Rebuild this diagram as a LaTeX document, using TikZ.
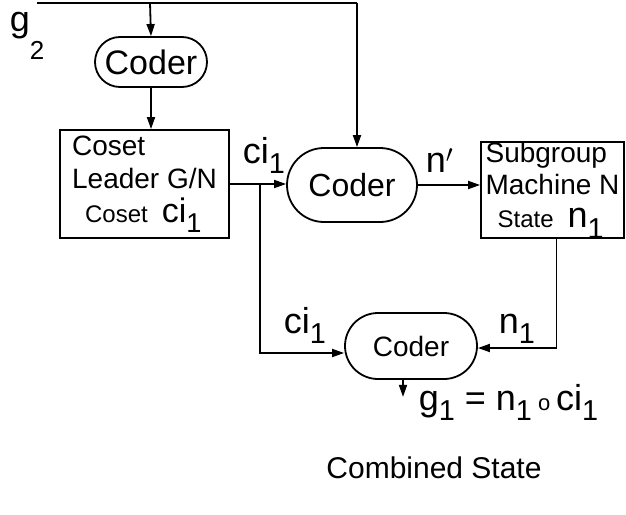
\documentclass[tikz,border=0pt]{standalone}
\usepackage{fontspec}
\setsansfont{Liberation Sans}
\usepackage{graphicx}
\usetikzlibrary{shapes.misc, arrows.meta, positioning}
\newcommand{\sz}[2]{\fontsize{#1}{#2}\selectfont}
\newcommand{\lowidx}[1]{\raisebox{-0.3em}{\scalebox{0.8}{#1}}}

\begin{document}
\begin{tikzpicture}[x=1pt, y=-1pt, font=\sffamily, >={Triangle[length=12pt, width=8pt]}, line width=1.8pt,
    coder/.style={rounded rectangle, draw, line width=1.8pt, inner sep=0pt},
    statebox/.style={rectangle, draw, align=left, inner sep=0pt},
    lbl/.style={inner sep=0pt, font=\sffamily\sz{36}{40}}]
        \useasboundingbox (0,0) rectangle (626,514);

        % Coders (pill shaped)
        \node[coder, minimum width=112, minimum height=50, font=\sffamily\sz{34}{40}] (coder1) at (151,62) {Coder};
        \node[coder, minimum width=130, minimum height=74, font=\sffamily\sz{32}{38}] (coder2) at (352,185) {Coder};
        \node[coder, minimum width=132, minimum height=66, font=\sffamily\sz{28}{34}] (coder3) at (411,346) {Coder};

        % State boxes
        \node[statebox, minimum width=169, minimum height=108, font=\sffamily\sz{28}{33}] (coset) at (144.5,184) {Coset\\Leader G/N\\[1pt]\hspace{13pt}{\sz{24}{28}Coset}\hspace{14pt}{\sz{34}{33}ci\lowidx{1}}};
        \node[statebox, minimum width=143, minimum height=84, font=\sffamily\sz{28}{32}] (sub) at (552.5,190) {Subgroup\\Machine N\\[1pt]\hspace{12pt}{\sz{24}{28}State}\hspace{14pt}{\sz{36}{32}n\lowidx{1}}};

        % Labels
        \node[lbl, anchor=base west] (g2) at (9,31) {g\raisebox{-28pt}{\sz{26}{30}2}};
        \node[lbl, anchor=base west] (cia) at (242,163) {ci\lowidx{1}};
        \node[lbl, anchor=base west] (nprime) at (425,172) {n$'$};
        \node[lbl, anchor=base west] (cib) at (283,333) {ci\lowidx{1}};
        \node[lbl, anchor=base west] (nb) at (498,333) {n\lowidx{1}};
        \node[lbl, anchor=base west] (gform) at (418,410) {g\lowidx{1} = n\lowidx{1}\,{\sz{22}{26}o}\,ci\lowidx{1}};
        \node[inner sep=0pt, font=\sffamily\sz{30}{36}] (comb) at (434,468) {Combined State};

        % Input line g2
        \coordinate (topL) at (37,3);
        \coordinate (tap) at (150,3);
        \coordinate (topR) at (357,3);
        \draw (topL) -- (topR);
        \draw[->] (tap) -- (coder1.north);
        \draw[->] (topR) -- (topR |- coder2.north);

        % Paths
        \draw[->] (coder1.south) -- (coder1.south |- coset.north);
        \draw[->] (coset.east) -- (coset.east -| coder2.west);
        \draw[->] (coder2.east) -- (coder2.east -| sub.west);
        \coordinate (br) at (260,184);
        \draw[->] (br) |- ([yshift=-7pt]coder3.west);
        \draw[->] ([xshift=4pt]sub.south) |- ([yshift=-2pt]coder3.east);
        \draw[->] ([xshift=-8pt]coder3.south) -- ++(0,17);
    \end{tikzpicture}
\end{document}
